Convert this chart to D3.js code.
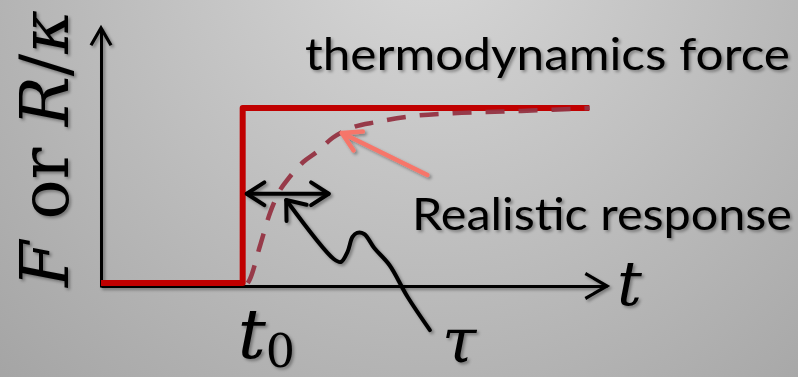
<!DOCTYPE html>
<html>
<head>
<meta charset="utf-8">
<script src="https://cdn.jsdelivr.net/npm/d3@7"></script>
<style>
  html, body { margin: 0; padding: 0; background: #b8b8b8; }
  svg { display: block; }
</style>
</head>
<body>
<script>
// Step input (thermodynamic force) and the lagging realistic response
const stepT = [0, 2.8, 2.8, 9.65];
const stepF = [0, 0, 1, 1];
const respT = [2.9, 2.94, 3.14, 3.34, 3.5, 3.74, 3.99, 4.27, 4.58, 4.98, 5.45, 6.05, 6.96, 7.94, 8.93, 9.66];
const respR = [0, 0.02, 0.21, 0.4, 0.51, 0.61, 0.69, 0.75, 0.83, 0.89, 0.92, 0.95, 0.97, 0.98, 0.99, 1.0];
const t0 = 2.8;

// Annotation geometry, in data units
const tauSpan = [2.88, 4.5];   // double arrow across the response time
const tauLevel = 0.51;
const waveT = [3.66, 4.6, 4.74, 4.87, 4.97, 5.06, 5.2, 5.4, 5.7, 6.06, 6.5];
const waveR = [0.474, 0.137, 0.12, 0.177, 0.263, 0.286, 0.28, 0.2, 0.103, -0.08, -0.269];
const pointerFrom = [6.45, 0.617];
const pointerTo = [4.76, 0.857];

const W = 798, H = 377;
const svg = d3.select("body").append("svg").attr("width", W).attr("height", H);
const defs = svg.append("defs");

const bg = defs.append("radialGradient").attr("id", "bg")
  .attr("gradientUnits", "userSpaceOnUse")
  .attr("cx", 430).attr("cy", -60).attr("r", 620);
bg.append("stop").attr("offset", 0).attr("stop-color", "#d8d8d8");
bg.append("stop").attr("offset", 1).attr("stop-color", "#a4a4a4");

const shadow = defs.append("filter").attr("id", "shadow")
  .attr("x", "-20%").attr("y", "-20%").attr("width", "140%").attr("height", "140%");
shadow.append("feDropShadow").attr("dx", 2).attr("dy", 2).attr("stdDeviation", 1.5)
  .attr("flood-color", "#000").attr("flood-opacity", 0.35);

svg.append("rect").attr("width", W).attr("height", H).attr("fill", "url(#bg)");

const x = d3.scaleLinear().domain([0, 10]).range([101, 607]);
const y = d3.scaleLinear().domain([0, 1]).range([283, 108]);

// Axes: bare domain lines with open arrowheads
const axisY0 = 287, axisTop = 28;
const xAxisScale = x.copy();
const yAxisScale = d3.scaleLinear().domain([y.invert(axisY0), y.invert(axisTop)]).range([axisY0, axisTop]);

const axes = svg.append("g").attr("filter", "url(#shadow)");
axes.append("g").attr("transform", `translate(0,${axisY0 - 1})`)
  .call(d3.axisBottom(xAxisScale).tickValues([]).tickSizeOuter(0))
  .call(g => g.select(".domain").attr("stroke", "#000").attr("stroke-width", 3));
axes.append("g").attr("transform", `translate(${x(0)},0)`)
  .call(d3.axisLeft(yAxisScale).tickValues([]).tickSizeOuter(0))
  .call(g => g.select(".domain").attr("stroke", "#000").attr("stroke-width", 3));

function chevron(tip, back, len, deg) {
  const a = Math.atan2(back[1] - tip[1], back[0] - tip[0]);
  const r = deg * Math.PI / 180;
  const p1 = [tip[0] + len * Math.cos(a + r), tip[1] + len * Math.sin(a + r)];
  const p2 = [tip[0] + len * Math.cos(a - r), tip[1] + len * Math.sin(a - r)];
  return `M${p1}L${tip}L${p2}`;
}

const xTip = [x(10), axisY0 - 1];
axes.append("path").attr("d", chevron(xTip, [x(9), axisY0 - 1], 25, 30))
  .attr("fill", "none").attr("stroke", "#000").attr("stroke-width", 3.2);
const yTip = [x(0), axisTop];
axes.append("path").attr("d", chevron(yTip, [x(0), axisTop + 10], 20, 30))
  .attr("fill", "none").attr("stroke", "#000").attr("stroke-width", 3.2);

// Step force
const line = d3.line().x(d => x(d[0])).y(d => y(d[1]));
svg.append("path")
  .attr("d", line(stepT.map((t, i) => [t, stepF[i]])))
  .attr("fill", "none").attr("stroke", "#c00000").attr("stroke-width", 6)
  .attr("stroke-linejoin", "round");

// Realistic response (dashed)
const curve = d3.line().x(d => x(d[0])).y(d => y(d[1])).curve(d3.curveMonotoneX);
svg.append("path")
  .attr("d", curve(respT.map((t, i) => [t, respR[i]])))
  .attr("fill", "none").attr("stroke", "#953342").attr("stroke-opacity", 0.95)
  .attr("stroke-width", 4.5).attr("stroke-dasharray", "19,14");

// Double arrow marking the response time
const ann = svg.append("g").attr("filter", "url(#shadow)")
  .attr("fill", "none").attr("stroke", "#000").attr("stroke-width", 4)
  .attr("stroke-linecap", "round").attr("stroke-linejoin", "round");
const a0 = [x(tauSpan[0]), y(tauLevel)], a1 = [x(tauSpan[1]), y(tauLevel)];
ann.append("path").attr("d", `M${a0}L${a1}`);
ann.append("path").attr("d", chevron(a0, a1, 21, 33));
ann.append("path").attr("d", chevron(a1, a0, 21, 33));

// Wavy pointer from tau to the double arrow
const wavePts = waveT.map((t, i) => [x(t), y(waveR[i])]);
ann.append("path").attr("d", d3.line().curve(d3.curveCatmullRom.alpha(0.5))(wavePts));
ann.append("path").attr("d", chevron(wavePts[0], wavePts[1], 21, 38));

// Salmon pointer to the response curve
const pf = [x(pointerFrom[0]), y(pointerFrom[1])], pt = [x(pointerTo[0]), y(pointerTo[1])];
const sal = svg.append("g").attr("filter", "url(#shadow)")
  .attr("fill", "none").attr("stroke", "#f6766a").attr("stroke-width", 4.5)
  .attr("stroke-linecap", "round").attr("stroke-linejoin", "round");
sal.append("path").attr("d", `M${pf}L${pt}`);
sal.append("path").attr("d", chevron(pt, pf, 21, 30));

// Labels
const labels = svg.append("g").attr("filter", "url(#shadow)").attr("fill", "#000");
const sans = "Lato, 'Open Sans', sans-serif";
const serif = "'DejaVu Serif', 'Liberation Serif', serif";

labels.append("text").attr("x", 305).attr("y", 70)
  .attr("font-family", sans).attr("font-size", 44)
  .attr("textLength", 485).attr("lengthAdjust", "spacingAndGlyphs")
  .text("thermodynamics force");
labels.append("text").attr("x", 412).attr("y", 230)
  .attr("font-family", sans).attr("font-size", 44)
  .attr("textLength", 380).attr("lengthAdjust", "spacingAndGlyphs")
  .text("Realistic response");

const yl = labels.append("text").attr("transform", "translate(68,287) rotate(-90)")
  .attr("font-family", serif).attr("font-size", 68)
  .attr("textLength", 277).attr("lengthAdjust", "spacingAndGlyphs");
yl.append("tspan").attr("font-style", "italic").text("F");
yl.append("tspan").text(" or ");
yl.append("tspan").attr("font-style", "italic").text("R");
yl.append("tspan").text("/");
yl.append("tspan").attr("font-style", "italic").text("κ");

labels.append("text").attr("x", 617).attr("y", 305)
  .attr("font-family", serif).attr("font-style", "italic").attr("font-size", 62)
  .text("t");

const t0l = labels.append("text").attr("x", x(t0) - 5).attr("y", 358)
  .attr("font-family", serif).attr("font-size", 70);
t0l.append("tspan").attr("font-style", "italic").text("t");
t0l.append("tspan").attr("font-size", 46).attr("dy", 9).text("0");

labels.append("text").attr("x", 442).attr("y", 362)
  .attr("font-family", serif).attr("font-style", "italic").attr("font-size", 62)
  .text("τ");
</script>
</body>
</html>
